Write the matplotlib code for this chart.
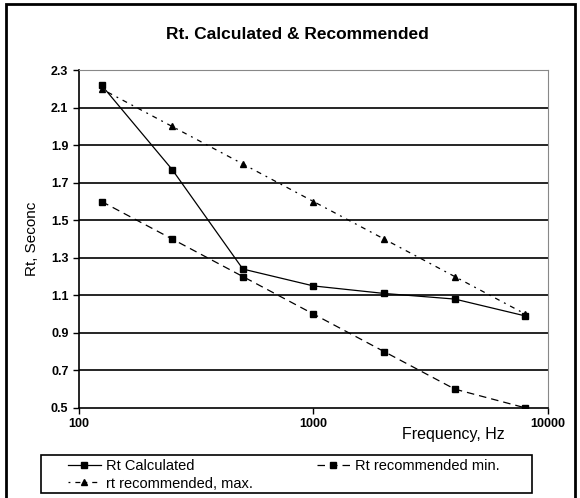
#!/usr/bin/env python3
"""Reverberation time: calculated vs recommended range."""
import matplotlib
matplotlib.use("Agg")
import matplotlib.pyplot as plt
from matplotlib.patches import Rectangle

FREQS = [125, 250, 500, 1000, 2000, 4000, 8000]
RT_CALC = [2.22, 1.77, 1.24, 1.15, 1.11, 1.08, 0.99]
RT_MIN = [1.60, 1.40, 1.20, 1.00, 0.80, 0.60, 0.50]
RT_MAX = [2.20, 2.00, 1.80, 1.60, 1.40, 1.20, 1.00]
Y_TICKS = [0.5, 0.7, 0.9, 1.1, 1.3, 1.5, 1.7, 1.9, 2.1, 2.3]
X_TICKS = [100, 1000, 10000]

plt.rcParams["font.family"] = ["Liberation Sans", "DejaVu Sans"]

fig = plt.figure(figsize=(5.8, 4.98), dpi=100)
ax = fig.add_axes([0.136, 0.181, 0.809, 0.678])

# outer chart frame
fig.patches.append(Rectangle((0.010, -0.05), 0.981, 1.042, transform=fig.transFigure,
                             fill=False, edgecolor="black", linewidth=2.0))
# legend frame
fig.patches.append(Rectangle((0.0707, 0.010), 0.847, 0.076, transform=fig.transFigure,
                             fill=False, edgecolor="black", linewidth=1.2))

for y in Y_TICKS[1:-1]:
    ax.axhline(y, color="black", linewidth=1.2, zorder=1)

l1, = ax.plot(FREQS, RT_CALC, color="black", linewidth=0.9, linestyle="-",
              marker="s", markersize=5, label="Rt Calculated", zorder=3)
l2, = ax.plot(FREQS, RT_MIN, color="black", linewidth=0.9, linestyle=(0, (6, 4)),
              marker="s", markersize=5, label="Rt recommended min.", zorder=3)
l3, = ax.plot(FREQS, RT_MAX, color="black", linewidth=0.9,
              linestyle=(0, (1.5, 4, 4, 4)),
              marker="^", markersize=5, label="rt recommended, max.", zorder=3)

ax.set_xscale("log")
ax.set_xlim(100, 10000)
ax.set_ylim(0.5, 2.3)
ax.set_xticks(X_TICKS)
ax.set_xticklabels(["100", "1000", "10000"])
ax.minorticks_off()
ax.set_yticks(Y_TICKS)
ax.set_yticklabels([f"{v:.1f}" for v in Y_TICKS])
ax.tick_params(axis="both", labelsize=9, direction="out", length=4, width=1)
for lab in ax.get_xticklabels() + ax.get_yticklabels():
    lab.set_fontweight("bold")

ax.spines["left"].set_color("black")
ax.spines["left"].set_linewidth(1.2)
ax.spines["bottom"].set_color("black")
ax.spines["bottom"].set_linewidth(1.2)
ax.spines["top"].set_color("#888888")
ax.spines["right"].set_color("#888888")

fig.text(0.512, 0.930, "Rt. Calculated & Recommended", fontsize=12.5,
         fontweight="bold", ha="center", va="center")
ax.set_ylabel("Rt, Seconc", fontsize=11)
ax.yaxis.set_label_coords(-0.085, 0.5)
fig.text(0.781, 0.128, "Frequency, Hz", fontsize=11.5, ha="center", va="center")

leg = fig.legend([l1, l3, l2], [l1.get_label(), l3.get_label(), l2.get_label()],
                 loc="upper left", bbox_to_anchor=(0.117, 0.078),
                 ncol=2, fontsize=10.5, frameon=False, handlelength=2.26,
                 borderpad=0, labelspacing=0.23, handletextpad=0.35,
                 columnspacing=4.4, borderaxespad=0)

fig.savefig("out.png", dpi=100)
